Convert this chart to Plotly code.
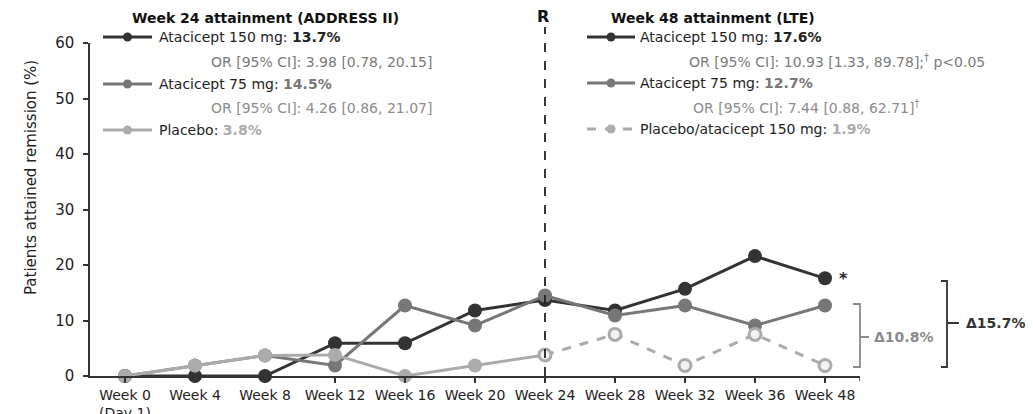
import plotly.graph_objects as go

# ---------------- data ----------------
weeks = ["Week 0<br>(Day 1)", "Week 4", "Week 8", "Week 12", "Week 16", "Week 20",
         "Week 24", "Week 28", "Week 32", "Week 36", "Week 48"]
atacicept_150 = [0, 0, 0, 5.9, 5.9, 11.8, 13.7, 11.8, 15.7, 21.6, 17.6]
atacicept_75 = [0, 1.9, 3.7, 1.9, 12.7, 9.1, 14.5, 10.9, 12.7, 9.1, 12.7]
placebo_ab = [0, 1.9, 3.7, 3.8, 0, 1.9, 3.8]                    # Week 0 - Week 24
placebo_lte = [3.8, 7.5, 1.9, 7.5, 1.9]                         # Week 24 - Week 48
yticks = [0, 10, 20, 30, 40, 50, 60]

DARK = "#333333"
MID = "#777777"
LIGHT = "#ababab"
FONT = "DejaVu Sans"

OFF = 8  # page body margin of the browser
W, H = 1033 - OFF, 414 - OFF
# plot area in screen pixels
L, R, T, B = 90, 860, 43, 376


def px(x):
    return (x - L) / (R - L)


def py(y):
    return (B - y) / (B - T)


fig = go.Figure()
fig.add_trace(go.Scatter(x=weeks, y=atacicept_150, mode="lines+markers",
                         line=dict(color=DARK, width=3),
                         marker=dict(size=14, color=DARK), cliponaxis=False,
                         name="Atacicept 150 mg"))
fig.add_trace(go.Scatter(x=weeks, y=atacicept_75, mode="lines+markers",
                         line=dict(color=MID, width=3),
                         marker=dict(size=14, color=MID), cliponaxis=False,
                         name="Atacicept 75 mg"))
fig.add_trace(go.Scatter(x=weeks[:7], y=placebo_ab, mode="lines+markers",
                         line=dict(color=LIGHT, width=3),
                         marker=dict(size=14, color=LIGHT), cliponaxis=False,
                         name="Placebo"))
fig.add_trace(go.Scatter(x=weeks[6:], y=placebo_lte, mode="lines+markers",
                         line=dict(color=LIGHT, width=3, dash="dash"),
                         marker=dict(size=12, color="#f2f2f2",
                                     line=dict(color=LIGHT, width=3)),
                         cliponaxis=False, name="Placebo/atacicept 150 mg"))

shapes = []
# end tick on x axis
shapes.append(dict(type="line", xref="x", yref="paper", x0=10.5, x1=10.5,
                   y0=0, y1=-5 / (B - T), line=dict(color=DARK, width=1.5)))
# randomisation dashed line at Week 24
shapes.append(dict(type="line", xref="x", yref="paper", x0=6, x1=6,
                   y0=0, y1=py(27), line=dict(color="#222222", width=1.8, dash="dash")))


def legend_sample(x0, x1, y, color, dash="solid"):
    shapes.append(dict(type="line", xref="paper", yref="paper",
                       x0=px(x0), x1=px(x1), y0=py(y), y1=py(y),
                       line=dict(color=color, width=3, dash=dash)))
    xm = (x0 + x1) / 2
    shapes.append(dict(type="circle", xref="paper", yref="paper",
                       x0=px(xm - 4.5), x1=px(xm + 4.5), y0=py(y + 4.5), y1=py(y - 4.5),
                       fillcolor=color, line=dict(color=color, width=0)))


legend_sample(103, 152, 37, DARK)
legend_sample(103, 152, 84, MID)
legend_sample(103, 152, 130, LIGHT)
legend_sample(587, 635, 37, DARK)
legend_sample(587, 635, 83, MID)
legend_sample(587, 635, 129, LIGHT, dash="dash")


def bracket(xl, xv, xt, ytop, ybot, ymid, color):
    path = (f"M {px(xl)},{py(ytop)} L {px(xv)},{py(ytop)} L {px(xv)},{py(ybot)} "
            f"L {px(xl)},{py(ybot)} M {px(xv)},{py(ymid)} L {px(xt)},{py(ymid)}")
    shapes.append(dict(type="path", xref="paper", yref="paper", path=path,
                       line=dict(color=color, width=1.8)))


bracket(853, 860, 869, 304, 367, 337, "#8a8a8a")
bracket(941, 947, 959, 281, 367, 323, DARK)

annotations = []


def text(x, y, s, size=14, color="#222222", anchor="left"):
    annotations.append(dict(xref="paper", yref="paper", x=px(x), y=py(y), text=s,
                            showarrow=False, xanchor=anchor, yanchor="middle",
                            font=dict(family=FONT, size=size, color=color)))


text(265, 18, "<b>Week 24 attainment (ADDRESS II)</b>", anchor="center", color="#111111")
text(157, 37, "Atacicept 150 mg: <b>13.7%</b>")
text(209, 62, "OR [95% CI]: 3.98 [0.78, 20.15]", color="#7a7a7a")
text(157, 84, f"Atacicept 75 mg: <b><span style='color:{MID}'>14.5%</span></b>")
text(209, 108, "OR [95% CI]: 4.26 [0.86, 21.07]", color="#8c8c8c")
text(157, 130, f"Placebo: <b><span style='color:{LIGHT}'>3.8%</span></b>")

text(543, 17, "<b>R</b>", size=16, anchor="center", color="#111111")
text(713, 18, "<b>Week 48 attainment (LTE)</b>", anchor="center", color="#111111")
text(638, 37, "Atacicept 150 mg: <b>17.6%</b>")
text(687, 61, "OR [95% CI]: 10.93 [1.33, 89.78];<sup>†</sup> p&lt;0.05", color="#7a7a7a")
text(638, 83, f"Atacicept 75 mg: <b><span style='color:{MID}'>12.7%</span></b>")
text(691, 107, "OR [95% CI]: 7.44 [0.88, 62.71]<sup>†</sup>", color="#8c8c8c")
text(638, 129, f"Placebo/atacicept 150 mg: <b><span style='color:{LIGHT}'>1.9%</span></b>")

text(843, 278, "<b>*</b>", size=16, anchor="center", color="#222222")
text(872, 337, "<b>Δ10.8%</b>", size=14, color="#8a8a8a")
text(964, 323, "<b>Δ15.7%</b>", size=14, color=DARK)

annotations.append(dict(xref="paper", yref="paper", x=px(31), y=py(178),
                        text="Patients attained remission (%)", textangle=-90,
                        showarrow=False, xanchor="center", yanchor="middle",
                        font=dict(family=FONT, size=15, color="#222222")))

fig.update_layout(
    width=W, height=H,
    margin=dict(l=L - OFF, r=W - (R - OFF), t=T - OFF, b=H - (B - OFF), pad=0),
    plot_bgcolor="white", paper_bgcolor="white",
    showlegend=False,
    font=dict(family=FONT, color="#222222"),
    shapes=shapes, annotations=annotations,
    xaxis=dict(type="category", range=[-0.5, 10.5], showgrid=False, zeroline=False,
               showline=True, linecolor=DARK, linewidth=1.5, automargin=False,
               ticks="outside", ticklen=5, tickcolor=DARK, tickwidth=1.5,
               ticklabelstandoff=0,
               tickfont=dict(family=FONT, size=14, color="#222222")),
    yaxis=dict(range=[0, 60], tickvals=yticks, showgrid=False, zeroline=False,
               showline=True, linecolor=DARK, linewidth=1.5, automargin=False,
               ticks="outside", ticklen=5, tickcolor=DARK, tickwidth=1.5,
               ticklabelstandoff=6,
               tickfont=dict(family=FONT, size=15, color="#222222")),
)

fig.write_html("out.html")
